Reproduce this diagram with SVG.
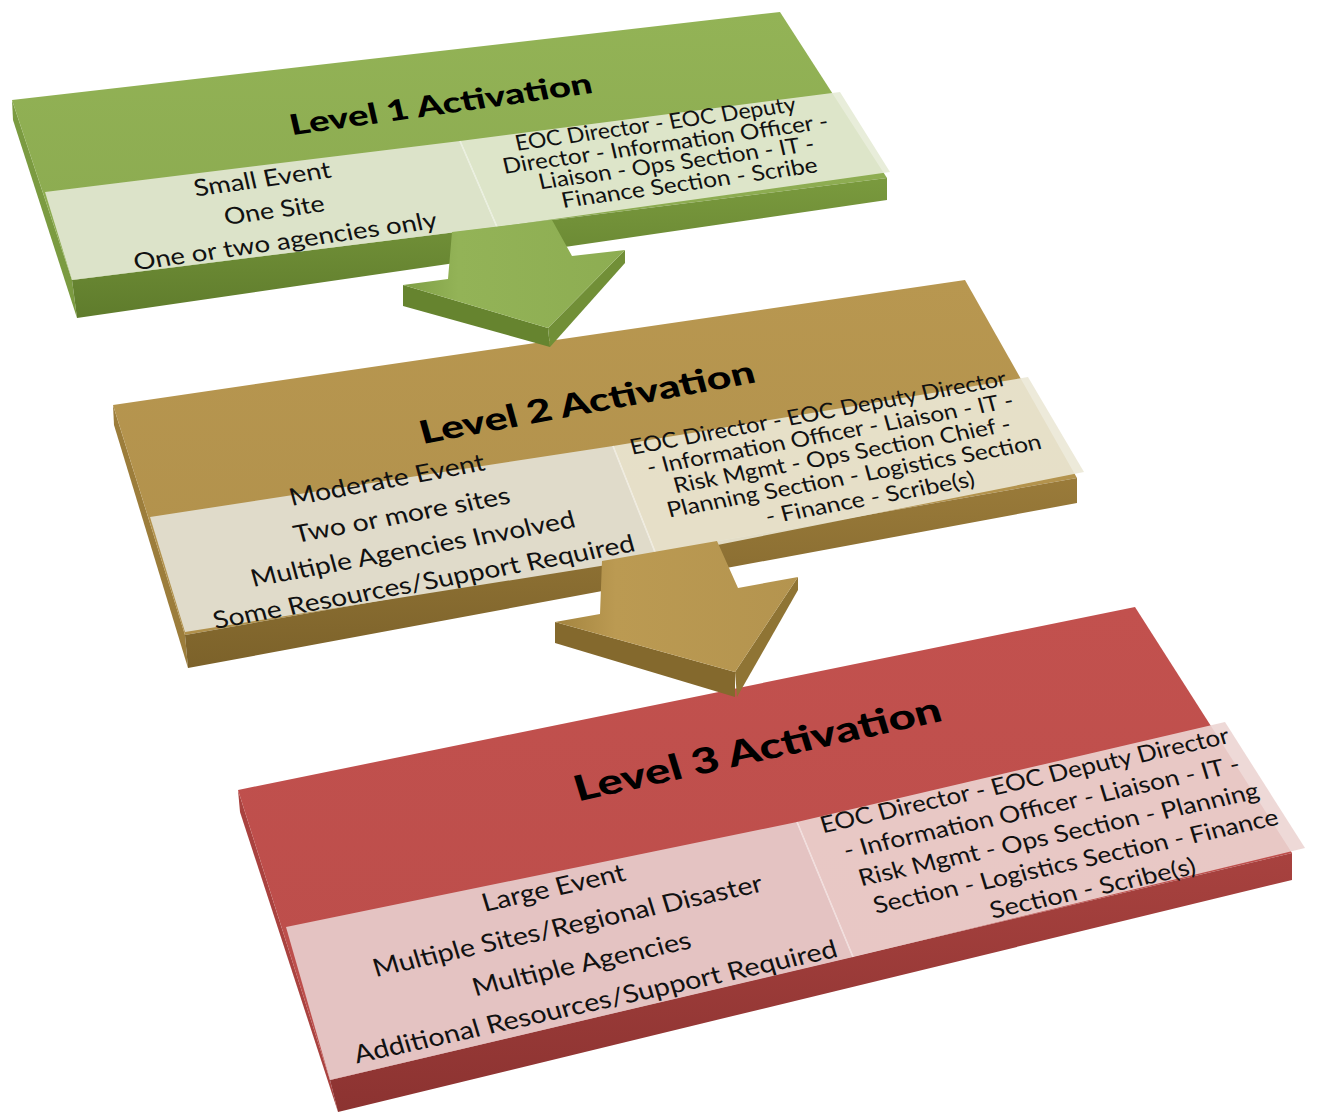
<svg xmlns="http://www.w3.org/2000/svg" width="1338" height="1118" viewBox="0 0 1338 1118">
<defs>
<style>
.title{font-family:Lato,"Open Sans","DejaVu Sans",sans-serif;font-weight:900;fill:#000;}
.body{font-family:Lato,"Liberation Sans",sans-serif;fill:#111;}
.div{stroke:#ffffff;stroke-opacity:0.6;stroke-width:1.5;fill:none;}
</style>
<linearGradient id="gTop" x1="0" y1="0" x2="0" y2="1"><stop offset="0" stop-color="#93b356"/><stop offset="1" stop-color="#8aa94f"/></linearGradient>
<linearGradient id="gFront" x1="0" y1="0" x2="0" y2="1"><stop offset="0" stop-color="#7a9a3e"/><stop offset="1" stop-color="#5f7c2c"/></linearGradient>
<linearGradient id="tTop" x1="0" y1="0" x2="0" y2="1"><stop offset="0" stop-color="#b89750"/><stop offset="1" stop-color="#b0904b"/></linearGradient>
<linearGradient id="tFront" x1="0" y1="0" x2="0" y2="1"><stop offset="0" stop-color="#9a7b3a"/><stop offset="1" stop-color="#7c622a"/></linearGradient>
<linearGradient id="rTop" x1="0" y1="0" x2="0" y2="1"><stop offset="0" stop-color="#c2514e"/><stop offset="1" stop-color="#bb4d4a"/></linearGradient>
<linearGradient id="rFront" x1="0" y1="0" x2="0" y2="1"><stop offset="0" stop-color="#a8423f"/><stop offset="1" stop-color="#8c3331"/></linearGradient>
<linearGradient id="gArrow" x1="0" y1="0" x2="1" y2="0"><stop offset="0" stop-color="#7f9f45"/><stop offset="0.25" stop-color="#93b357"/><stop offset="1" stop-color="#8dad52"/></linearGradient>
<linearGradient id="tArrow" x1="0" y1="0" x2="1" y2="0"><stop offset="0" stop-color="#a3843f"/><stop offset="0.25" stop-color="#bb9a52"/><stop offset="1" stop-color="#b4944f"/></linearGradient>
</defs>
<rect width="1338" height="1118" fill="#ffffff"/>

<g id="level3">
<polygon points="238,790 330,1080 338,1112 240,812" fill="#a9423f"/>
<polygon points="238,790 1135,607 1292,853 330,1080" fill="url(#rTop)"/>
<polygon points="330,1080 1292,853 1292,880 338,1112" fill="url(#rFront)"/>
<polygon points="286,927 797,822 853,957 330,1080" fill="#e4c3c2"/>
<polygon points="797,822 1225,722 1305,848 853,957" fill="#ecd5d3" fill-opacity="0.9"/>
<line class="div" x1="797" y1="822" x2="853" y2="957"/>
<text class="title" font-size="41" text-anchor="middle" textLength="375" lengthAdjust="spacingAndGlyphs" transform="matrix(0.9763 -0.2164 0.254 0.832 761 761)">Level 3 Activation</text>
<g class="body" font-size="29" text-anchor="middle">
<text textLength="146" lengthAdjust="spacingAndGlyphs" transform="matrix(0.9763 -0.2164 0.254 0.832 556 896)">Large Event</text>
<text textLength="398" lengthAdjust="spacingAndGlyphs" transform="matrix(0.9763 -0.2164 0.254 0.832 570 934)">Multiple Sites/Regional Disaster</text>
<text textLength="223" lengthAdjust="spacingAndGlyphs" transform="matrix(0.9763 -0.2164 0.254 0.832 584 972)">Multiple Agencies</text>
<text textLength="494" lengthAdjust="spacingAndGlyphs" transform="matrix(0.9763 -0.2164 0.254 0.832 598 1010)">Additional Resources/Support Required</text>
</g>
<g class="body" font-size="27" text-anchor="middle">
<text textLength="418" lengthAdjust="spacingAndGlyphs" transform="matrix(0.9763 -0.2164 0.254 0.832 1027 788)">EOC Director - EOC Deputy Director</text>
<text textLength="405" lengthAdjust="spacingAndGlyphs" transform="matrix(0.9763 -0.2164 0.254 0.832 1044 815)">- Information Officer - Liaison - IT -</text>
<text textLength="409" lengthAdjust="spacingAndGlyphs" transform="matrix(0.9763 -0.2164 0.254 0.832 1061 842)">Risk Mgmt - Ops Section - Planning</text>
<text textLength="414" lengthAdjust="spacingAndGlyphs" transform="matrix(0.9763 -0.2164 0.254 0.832 1078 869)">Section - Logistics Section - Finance</text>
<text textLength="210" lengthAdjust="spacingAndGlyphs" transform="matrix(0.9763 -0.2164 0.254 0.832 1095 896)">Section - Scribe(s)</text>
</g>
</g>

<g id="level2">
<polygon points="113,405 185,635 188,668 114,425" fill="#9c7d3b"/>
<polygon points="113,405 965,280 1077,478 185,635" fill="url(#tTop)"/>
<polygon points="185,635 1077,478 1077,503 188,668" fill="url(#tFront)"/>
<polygon points="150,517 613,446 657,557 185,632" fill="#e0dbca"/>
<polygon points="613,446 1028,377 1084,472 657,557" fill="#ebe8d6" fill-opacity="0.9"/>
<line class="div" x1="613" y1="446" x2="657" y2="557"/>
<text class="title" font-size="37" text-anchor="middle" textLength="340" lengthAdjust="spacingAndGlyphs" transform="matrix(0.9833 -0.1822 0.2325 0.838 590 413)">Level 2 Activation</text>
<g class="body" font-size="28" text-anchor="middle">
<text textLength="198" lengthAdjust="spacingAndGlyphs" transform="matrix(0.9833 -0.1822 0.2325 0.838 389 488)">Moderate Event</text>
<text textLength="219" lengthAdjust="spacingAndGlyphs" transform="matrix(0.9833 -0.1822 0.2325 0.838 404 523)">Two or more sites</text>
<text textLength="329" lengthAdjust="spacingAndGlyphs" transform="matrix(0.9833 -0.1822 0.2325 0.838 415 557)">Multiple Agencies Involved</text>
<text textLength="428" lengthAdjust="spacingAndGlyphs" transform="matrix(0.9833 -0.1822 0.2325 0.838 426 590)">Some Resources/Support Required</text>
</g>
<g class="body" font-size="25" text-anchor="middle">
<text textLength="382" lengthAdjust="spacingAndGlyphs" transform="matrix(0.9833 -0.1822 0.2325 0.838 820 420)">EOC Director - EOC Deputy Director</text>
<text textLength="372" lengthAdjust="spacingAndGlyphs" transform="matrix(0.9833 -0.1822 0.2325 0.838 832 441)">-  Information Officer - Liaison - IT -</text>
<text textLength="342" lengthAdjust="spacingAndGlyphs" transform="matrix(0.9833 -0.1822 0.2325 0.838 844 462)">Risk Mgmt - Ops Section Chief -</text>
<text textLength="380" lengthAdjust="spacingAndGlyphs" transform="matrix(0.9833 -0.1822 0.2325 0.838 856 483)">Planning Section - Logistics Section</text>
<text textLength="212" lengthAdjust="spacingAndGlyphs" transform="matrix(0.9833 -0.1822 0.2325 0.838 872 505)">- Finance - Scribe(s)</text>
</g>
</g>

<g id="level1">
<polygon points="12,100 72,280 77,318 13,120" fill="#7b9b41"/>
<polygon points="12,100 780,12 887,178 72,280" fill="url(#gTop)"/>
<polygon points="72,280 887,178 887,200 77,318" fill="url(#gFront)"/>
<polygon points="45,192 460,141 497,227 72,280" fill="#dce3c9"/>
<polygon points="460,141 840,92 890,172 497,227" fill="#e5ebd6" fill-opacity="0.9"/>
<line class="div" x1="460" y1="141" x2="497" y2="227"/>
<text class="title" font-size="33" text-anchor="middle" textLength="305" lengthAdjust="spacingAndGlyphs" transform="matrix(0.9903 -0.1392 0.196 0.848 443 114)">Level 1 Activation</text>
<g class="body" font-size="27" text-anchor="middle">
<text textLength="138" lengthAdjust="spacingAndGlyphs" transform="matrix(0.9903 -0.1392 0.196 0.848 264 187)">Small Event</text>
<text textLength="101" lengthAdjust="spacingAndGlyphs" transform="matrix(0.9903 -0.1392 0.196 0.848 276 218)">One Site</text>
<text textLength="306" lengthAdjust="spacingAndGlyphs" transform="matrix(0.9903 -0.1392 0.196 0.848 287 249)">One or two agencies only</text>
</g>
<g class="body" font-size="25" text-anchor="middle">
<text textLength="283" lengthAdjust="spacingAndGlyphs" transform="matrix(0.9903 -0.1392 0.196 0.848 657 131)">EOC Director - EOC Deputy</text>
<text textLength="328" lengthAdjust="spacingAndGlyphs" transform="matrix(0.9903 -0.1392 0.196 0.848 667 151)">Director - Information Officer -</text>
<text textLength="278" lengthAdjust="spacingAndGlyphs" transform="matrix(0.9903 -0.1392 0.196 0.848 678 170)">Liaison - Ops Section - IT -</text>
<text textLength="258" lengthAdjust="spacingAndGlyphs" transform="matrix(0.9903 -0.1392 0.196 0.848 691 190)">Finance Section - Scribe</text>
</g>
</g>

<g id="connectors">
<g id="arrow1">
<polygon points="403,285 548,328 550,347 403,306" fill="#66842f"/>
<polygon points="548,328 625,250 625,263 550,347" fill="#718f37"/>
<polygon points="452,232 552,220 572,256 625,250 548,328 403,285 448,279" fill="url(#gArrow)"/>
</g>
<g id="arrow2">
<polygon points="555,622 735,672 735,697 555,643" fill="#84692d"/>
<polygon points="735,672 798,577 798,590 737,697" fill="#8f7434"/>
<polygon points="602,561 717,541 738,588 798,577 735,672 555,622 600,614" fill="url(#tArrow)"/>
</g>
</g>
</svg>
